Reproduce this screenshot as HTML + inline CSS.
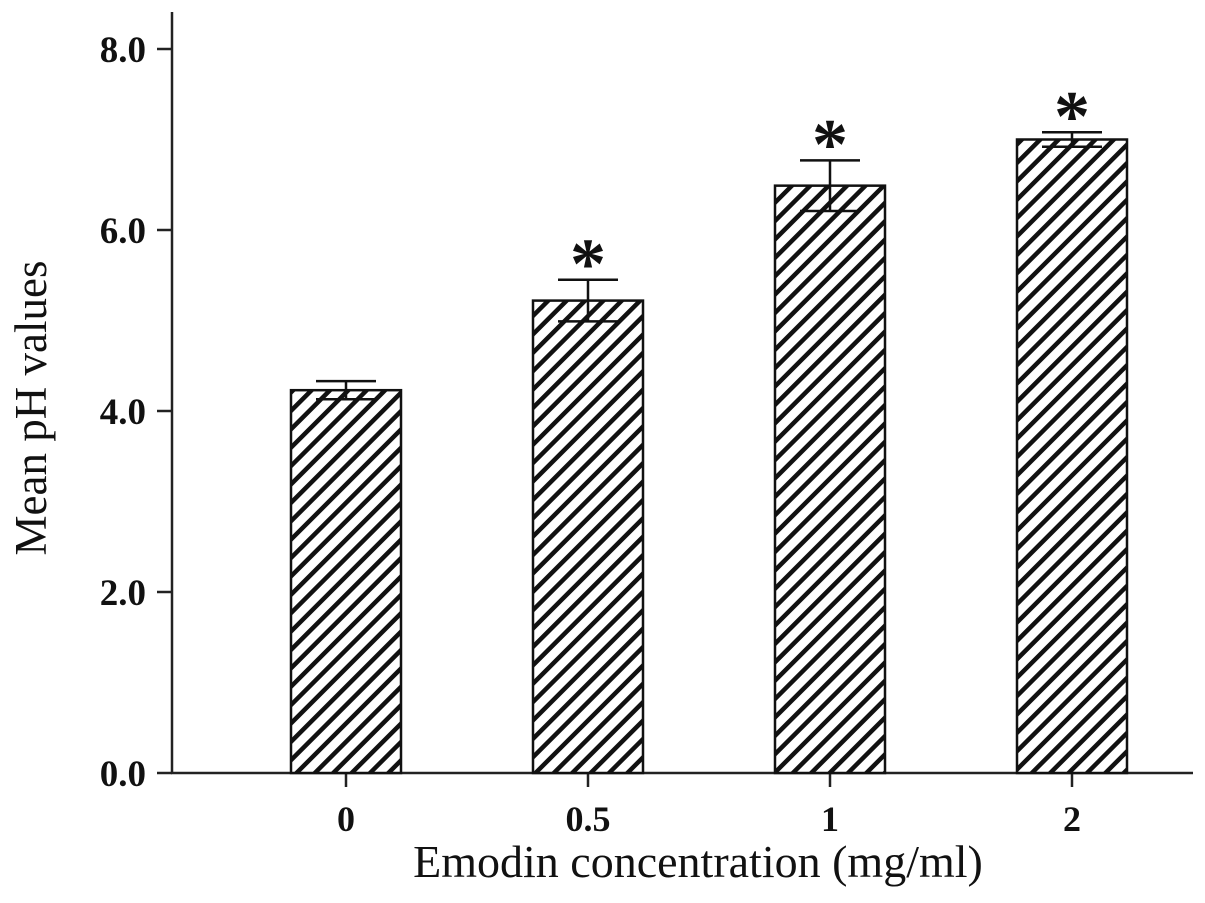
<!DOCTYPE html>
<html><head><meta charset="utf-8"><style>
body{margin:0;background:#fff}
svg text{font-family:"Liberation Serif",serif}
</style></head><body>
<svg id="chart" width="1205" height="898" xmlns="http://www.w3.org/2000/svg">
<defs>
<pattern id="hatch" patternUnits="userSpaceOnUse" width="13" height="13" patternTransform="rotate(45)">
<rect width="13" height="13" fill="#fff"/>
<rect x="0" y="0" width="4.5" height="13" fill="#111"/>
</pattern>
</defs>
<g id="plot"></g>
<text transform="translate(46,408) rotate(-90)" text-anchor="middle" font-size="45" fill="#111">Mean pH values</text>
<text x="698" y="877" text-anchor="middle" font-size="46" fill="#111">Emodin concentration (mg/ml)</text>
</svg>
<script>
const categories=["0","0.5","1","2"];
const values=[4.23,5.22,6.49,7.0];
const errors=[0.1,0.23,0.28,0.08];
const significant=[false,true,true,true];
const yTicks=[0,2,4,6,8];
const yTickLabels=["0.0","2.0","4.0","6.0","8.0"];
const NS="http://www.w3.org/2000/svg";
const g=document.getElementById('plot');
const y0=773,ppu=90.5,x0=346,step=242,bw=110;
const Y=v=>y0-v*ppu, X=i=>x0+i*step;
function mk(t,a){const e=document.createElementNS(NS,t);for(const k in a)e.setAttribute(k,a[k]);g.appendChild(e);return e;}
let e=mk('line',{x1:172,y1:12,x2:172,y2:774,stroke:'#222','stroke-width':2.5});


e=mk('line',{x1:171,y1:773,x2:1193,y2:773,stroke:'#222','stroke-width':2.5});


yTicks.forEach((v,i)=>{
 e=mk('line',{x1:157,y1:Y(v),x2:172,y2:Y(v),stroke:'#222','stroke-width':2.5});
 
 
 e=mk('text',{x:146,y:Y(v)+13,'text-anchor':'end','font-size':37,'font-weight':'bold',fill:'#111'});
 e.textContent=yTickLabels[i];
 
 
});
categories.forEach((c,i)=>{
 const x=X(i);
 e=mk('line',{x1:x,y1:773,x2:x,y2:787,stroke:'#222','stroke-width':2.5});
 
 
 e=mk('text',{x:x,y:831,'text-anchor':'middle','font-size':36,'font-weight':'bold',fill:'#111'});
 e.textContent=c;
 
 
 e=mk('rect',{x:x-bw/2,y:Y(values[i]),width:bw,height:y0-Y(values[i]),fill:'url(#hatch)',stroke:'#111','stroke-width':2.5});
 
 
 const hi=Y(values[i]+errors[i]),lo=Y(values[i]-errors[i]);
 e=mk('path',{d:`M${x},${lo}V${hi}M${x-30},${hi}H${x+30}M${x-30},${lo}H${x+30}`,stroke:'#111','stroke-width':2.5,fill:'none'});
 
 
 if(significant[i]){
  e=mk('text',{x:x,y:hi+8,'text-anchor':'middle','font-size':72,'font-weight':'bold',fill:'#111'});
  e.textContent='*';
  
  
 }
});
</script>
</body></html>
